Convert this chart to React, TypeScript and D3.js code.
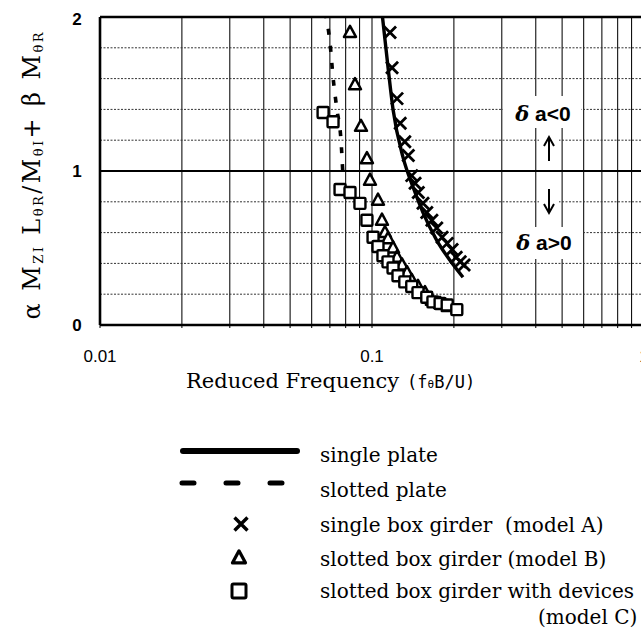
import * as d3 from "d3";

// reduced frequency (x) and response value (y)
const singlePlateF = [0.1085, 0.1145, 0.1195, 0.13, 0.1415, 0.154, 0.173, 0.1935, 0.216];
const singlePlateV = [2.05, 1.675, 1.4, 1.09, 0.896, 0.73, 0.55, 0.42, 0.31];

const slottedPlateF = [0.0672, 0.0701, 0.0719, 0.0743, 0.0769, 0.0782];
const slottedPlateV = [2.03, 1.83, 1.61, 1.4, 1.2, 0.97];

const modelAF = [0.1165, 0.1185, 0.1236, 0.127, 0.132, 0.136, 0.14, 0.144, 0.148, 0.154, 0.159, 0.166, 0.173, 0.181, 0.189, 0.197, 0.204, 0.211, 0.218];
const modelAV = [1.9, 1.67, 1.47, 1.31, 1.19, 1.1, 0.97, 0.92, 0.86, 0.79, 0.73, 0.68, 0.63, 0.57, 0.53, 0.49, 0.44, 0.41, 0.39];

const modelBF = [0.083, 0.0866, 0.0911, 0.0958, 0.0983, 0.1052, 0.1088, 0.1116, 0.1145, 0.1195, 0.1236, 0.1289, 0.1345, 0.14, 0.1476, 0.1566, 0.166, 0.178, 0.19];
const modelBV = [1.9, 1.56, 1.29, 1.08, 0.94, 0.81, 0.68, 0.6, 0.56, 0.5, 0.44, 0.39, 0.34, 0.29, 0.25, 0.21, 0.16, 0.14, 0.12];

const modelCF = [0.0661, 0.0719, 0.0763, 0.083, 0.0903, 0.0958, 0.1009, 0.1052, 0.1097, 0.1145, 0.1195, 0.1246, 0.132, 0.14, 0.1476, 0.159, 0.1675, 0.178, 0.189, 0.205];
const modelCV = [1.38, 1.32, 0.88, 0.86, 0.79, 0.68, 0.57, 0.51, 0.45, 0.41, 0.37, 0.32, 0.28, 0.25, 0.21, 0.18, 0.15, 0.14, 0.13, 0.1];

const xTicks = [0.01, 0.1, 1];
const xTickLabels = ["0.01", "0.1", "1"];
const yTicks = [0, 1, 2];
const yMinor = [0.2, 0.4, 0.6, 0.8, 1.2, 1.4, 1.6, 1.8];

const legendLabels = [
  "single plate",
  "slotted plate",
  "single box girder  (model A)",
  "slotted box girder (model B)",
  "slotted box girder with devices",
];

const serif = "'DejaVu Serif', serif";
const sans = "'Liberation Sans', Arial, sans-serif";
const mono = "'DejaVu Sans Mono', monospace";

const zip = (a: number[], b: number[]) => a.map((v, i) => [v, b[i]] as [number, number]);

const crossPath = (s: number) => `M${-s},${-s}L${s},${s}M${s},${-s}L${-s},${s}`;
const triPath = (s: number) => `M0,${-s * 1.1}L${s},${s * 0.75}L${-s},${s * 0.75}Z`;

export default function App() {
  const W = 641;
  const H = 630;
  const left = 100, right = 644, top = 17, bottom = 325;

  const x = d3.scaleLog().domain([0.01, 1]).range([left, right]);
  const y = d3.scaleLinear().domain([0, 2]).range([bottom, top]);

  const line = d3.line<[number, number]>()
    .x(d => x(d[0]))
    .y(d => y(d[1]))
    .curve(d3.curveMonotoneX);

  // log grid: 1..9 in each decade
  const vGrid: number[] = [];
  for (let dec = 0.01; dec < 1; dec *= 10) {
    for (let k = 1; k <= 9; k++) vGrid.push(+(dec * k).toPrecision(3));
  }
  vGrid.push(1);

  const legendY = [455, 490, 525, 559, 591];

  return (
    <svg width={W} height={H} style={{ position: "absolute", left: 0, top: 0, background: "#fff" }}>
      <defs>
        <clipPath id="plot">
          <rect x={left} y={top} width={right - left} height={bottom - top} />
        </clipPath>
      </defs>

      {/* grid */}
      {vGrid.map(v => (
        <line key={"v" + v} x1={x(v)} x2={x(v)} y1={top} y2={bottom + 3} stroke="#111" strokeWidth={1.1} />
      ))}
      {yMinor.map(v => (
        <line key={"h" + v} x1={left} x2={right} y1={y(v)} y2={y(v)} stroke="#333" strokeWidth={1} strokeDasharray="2,1.5" />
      ))}
      <line x1={left} x2={right} y1={y(1)} y2={y(1)} stroke="#000" strokeWidth={1.8} />

      {/* frame */}
      <line x1={left} x2={right} y1={top} y2={top} stroke="#000" strokeWidth={2.6} />
      <line x1={left} x2={right} y1={bottom} y2={bottom} stroke="#000" strokeWidth={2.6} />
      <line x1={left} x2={left} y1={top} y2={bottom} stroke="#000" strokeWidth={2.6} />

      {/* annotation */}
      <rect x={503} y={96} width={78} height={32} fill="#fff" />
      <rect x={539} y={134} width={20} height={30} fill="#fff" />
      <rect x={539} y={186} width={20} height={30} fill="#fff" />
      <rect x={503} y={227} width={80} height={32} fill="#fff" />
      <text x={543} y={121} textAnchor="middle" fontFamily={sans} fontWeight="bold" fontSize={21}>
        <tspan fontFamily={serif} fontStyle="italic">δ</tspan> a&lt;0
      </text>
      <path d="M549,161V139M544,146L549,137L554,146" fill="none" stroke="#000" strokeWidth={2} />
      <path d="M549,189V211M544,204L549,213L554,204" fill="none" stroke="#000" strokeWidth={2} />
      <text x={544} y={250} textAnchor="middle" fontFamily={sans} fontWeight="bold" fontSize={21}>
        <tspan fontFamily={serif} fontStyle="italic">δ</tspan> a&gt;0
      </text>

      {/* curves and markers */}
      <g clipPath="url(#plot)">
        <path d={line(zip(singlePlateF, singlePlateV)) || ""} fill="none" stroke="#000" strokeWidth={3.4} />
        <path d={line(zip(slottedPlateF, slottedPlateV)) || ""} fill="none" stroke="#000" strokeWidth={3.6} strokeDasharray="6,11" />
        {zip(modelAF, modelAV).map((d, i) => (
          <path key={"a" + i} d={crossPath(6)} transform={`translate(${x(d[0])},${y(d[1])})`} fill="none" stroke="#000" strokeWidth={2.8} />
        ))}
        {zip(modelBF, modelBV).map((d, i) => (
          <path key={"b" + i} d={triPath(6)} transform={`translate(${x(d[0])},${y(d[1])})`} fill="#fff" stroke="#000" strokeWidth={2.5} strokeLinejoin="round" />
        ))}
        {zip(modelCF, modelCV).map((d, i) => (
          <rect key={"c" + i} x={x(d[0]) - 5.5} y={y(d[1]) - 5.5} width={11} height={11} fill="#fff" stroke="#000" strokeWidth={2.4} rx={1} />
        ))}
      </g>

      {/* y tick labels */}
      {yTicks.map(v => (
        <text key={"yt" + v} x={77} y={y(v) + (v === 2 ? 8 : 6)} textAnchor="middle" fontFamily={sans} fontWeight="bold" fontSize={17}>{v}</text>
      ))}
      {/* x tick labels */}
      {xTicks.map((v, i) => (
        <text key={"xt" + v} x={x(v)} y={362} textAnchor="middle" fontFamily={sans} fontSize={17}>{xTickLabels[i]}</text>
      ))}

      {/* axis titles */}
      <text x={186} y={388} fontFamily={serif} fontSize={21}>
        Reduced Frequency
        <tspan fontFamily={mono} fontSize={17} dx={8}>(f</tspan>
        <tspan fontFamily={mono} fontSize={11}>θ</tspan>
        <tspan fontFamily={mono} fontSize={17}>B/U)</tspan>
      </text>
      <text transform="translate(40,176) rotate(-90)" textAnchor="middle" fontFamily={serif} fontSize={24} textLength={287} lengthAdjust="spacing">
        α M<tspan fontSize={13} dy={3}>ZI</tspan>
        <tspan dy={-3}> L</tspan><tspan fontSize={13} dy={3}>θR</tspan>
        <tspan dy={-3}>/M</tspan><tspan fontSize={13} dy={3}>θI</tspan>
        <tspan dy={-3}>+ β M</tspan><tspan fontSize={13} dy={3}>θR</tspan>
      </text>

      {/* legend */}
      <line x1={183} x2={297} y1={451} y2={451} stroke="#000" strokeWidth={6} strokeLinecap="round" />
      <line x1={182} x2={282} y1={483} y2={483} stroke="#000" strokeWidth={5} strokeDasharray="12,32" strokeLinecap="round" />
      <path d={crossPath(6.5)} transform="translate(241,524)" fill="none" stroke="#000" strokeWidth={3.4} />
      <path d={triPath(6.5)} transform="translate(239,558)" fill="#fff" stroke="#000" strokeWidth={3.2} strokeLinejoin="round" />
      <rect x={232} y={584} width={14} height={14} fill="#fff" stroke="#000" strokeWidth={3} rx={1.5} />
      {legendLabels.map((t, i) => (
        <text key={t} x={320} y={legendY[i] + 7} fontFamily={serif} fontSize={20} style={{ whiteSpace: "pre" }}>{t}</text>
      ))}
      <text x={538} y={624} fontFamily={serif} fontSize={20}>(model C)</text>
    </svg>
  );
}
